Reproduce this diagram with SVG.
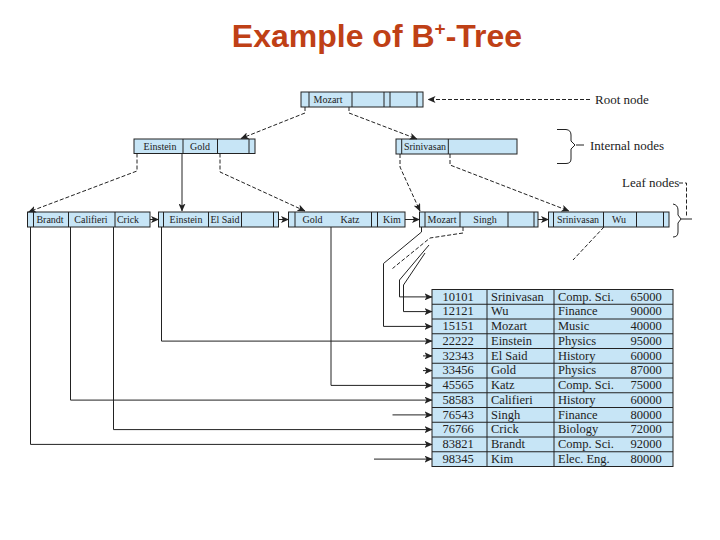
<svg xmlns="http://www.w3.org/2000/svg" width="720" height="540" viewBox="0 0 720 540">
<defs>
<marker id="ah" markerWidth="8" markerHeight="7" refX="7.5" refY="3.5" orient="auto" markerUnits="userSpaceOnUse"><path d="M0,0 L8,3.5 L0,7 L2,3.5 z" fill="#222"/></marker>
</defs>
<style>
.box{fill:#c7e5f6;stroke:#222;stroke-width:1}
.dv{stroke:#222;stroke-width:1}
.k{font-family:"Liberation Serif",serif;font-size:10px;fill:#222;text-anchor:middle}
.c{fill:none;stroke:#222;stroke-width:1}
.d{stroke-dasharray:4 2}
.t{font-family:"Liberation Serif",serif;font-size:12.5px;fill:#222}
.m{text-anchor:middle}
.lbl{font-family:"Liberation Serif",serif;font-size:13px;fill:#222}
.title{font-family:"Liberation Sans",Arial,sans-serif;font-size:32px;font-weight:bold;fill:#bf4016}
</style>
<rect width="720" height="540" fill="#fff"/>
<text class="title" x="377" y="47" text-anchor="middle">Example of B<tspan font-size="19" dy="-12">+</tspan><tspan dy="12">-Tree</tspan></text>

<g id="root">
<rect class="box" x="301" y="92" width="122" height="15"/>
<path class="dv" d="M309,92V107M352,92V107M384,92V107M390,92V107M417,92V107"/>
<text class="k" x="328" y="103">Mozart</text>
</g>
<g id="internal-left">
<rect class="box" x="134" y="139" width="121" height="14.5"/>
<path class="dv" d="M183,139V153.5M217.5,139V153.5M249,139V153.5"/>
<text class="k" x="160" y="150">Einstein</text>
<text class="k" x="200" y="150">Gold</text>
</g>
<g id="internal-right">
<rect class="box" x="396" y="139" width="121" height="15"/>
<path class="dv" d="M401.7,139V154M448.3,139V154"/>
<text class="k" x="425" y="150">Srinivasan</text>
</g>
<g id="leaf-1">
<rect class="box" x="27.5" y="212" width="122.5" height="15"/>
<path class="dv" d="M33.5,212V227M68.5,212V227M115,212V227"/>
<text class="k" x="50" y="223">Brandt</text>
<text class="k" x="91" y="223">Califieri</text>
<text class="k" x="128" y="223">Crick</text>
</g>
<g id="leaf-2">
<rect class="box" x="158.5" y="212" width="120" height="15"/>
<path class="dv" d="M163.5,212V227M208.5,212V227M241.5,212V227M273.5,212V227"/>
<text class="k" x="186" y="223">Einstein</text>
<text class="k" x="225" y="223">El Said</text>
</g>
<g id="leaf-3">
<rect class="box" x="288.5" y="212" width="116.5" height="15"/>
<path class="dv" d="M295,212V227M371.5,212V227M377.5,212V227"/>
<text class="k" x="312.5" y="223">Gold</text>
<text class="k" x="350" y="223">Katz</text>
<text class="k" x="392" y="223">Kim</text>
</g>
<g id="leaf-4">
<rect class="box" x="419.5" y="212" width="118.5" height="15"/>
<path class="dv" d="M425,212V227M460,212V227M508,212V227M534,212V227"/>
<text class="k" x="442" y="223">Mozart</text>
<text class="k" x="485" y="223">Singh</text>
</g>
<g id="leaf-5">
<rect class="box" x="548.5" y="212" width="120.5" height="15"/>
<path class="dv" d="M553.5,212V227M603.5,212V227M636.5,212V227M663.5,212V227"/>
<text class="k" x="578" y="223">Srinivasan</text>
<text class="k" x="619" y="223">Wu</text>
</g>

<g id="records">
<rect class="box" x="432" y="289.5" width="241" height="177"/>
<path class="dv" d="M487,289.5V466.5M554,289.5V466.5M432,304.25H673M432,319H673M432,333.75H673M432,348.5H673M432,363.25H673M432,378H673M432,392.75H673M432,407.5H673M432,422.25H673M432,437H673M432,451.75H673"/>
<g class="t">
<text class="m" x="458" y="300.5">10101</text><text x="491" y="300.5">Srinivasan</text><text x="558" y="300.5">Comp. Sci.</text><text class="m" x="646" y="300.5">65000</text>
<text class="m" x="458" y="315.25">12121</text><text x="491" y="315.25">Wu</text><text x="558" y="315.25">Finance</text><text class="m" x="646" y="315.25">90000</text>
<text class="m" x="458" y="330">15151</text><text x="491" y="330">Mozart</text><text x="558" y="330">Music</text><text class="m" x="646" y="330">40000</text>
<text class="m" x="458" y="344.75">22222</text><text x="491" y="344.75">Einstein</text><text x="558" y="344.75">Physics</text><text class="m" x="646" y="344.75">95000</text>
<text class="m" x="458" y="359.5">32343</text><text x="491" y="359.5">El Said</text><text x="558" y="359.5">History</text><text class="m" x="646" y="359.5">60000</text>
<text class="m" x="458" y="374.25">33456</text><text x="491" y="374.25">Gold</text><text x="558" y="374.25">Physics</text><text class="m" x="646" y="374.25">87000</text>
<text class="m" x="458" y="389">45565</text><text x="491" y="389">Katz</text><text x="558" y="389">Comp. Sci.</text><text class="m" x="646" y="389">75000</text>
<text class="m" x="458" y="403.75">58583</text><text x="491" y="403.75">Califieri</text><text x="558" y="403.75">History</text><text class="m" x="646" y="403.75">60000</text>
<text class="m" x="458" y="418.5">76543</text><text x="491" y="418.5">Singh</text><text x="558" y="418.5">Finance</text><text class="m" x="646" y="418.5">80000</text>
<text class="m" x="458" y="433.25">76766</text><text x="491" y="433.25">Crick</text><text x="558" y="433.25">Biology</text><text class="m" x="646" y="433.25">72000</text>
<text class="m" x="458" y="448">83821</text><text x="491" y="448">Brandt</text><text x="558" y="448">Comp. Sci.</text><text class="m" x="646" y="448">92000</text>
<text class="m" x="458" y="462.75">98345</text><text x="491" y="462.75">Kim</text><text x="558" y="462.75">Elec. Eng.</text><text class="m" x="646" y="462.75">80000</text>
</g>
</g>

<g id="labels">
<text class="lbl" x="595" y="104">Root node</text>
<text class="lbl" x="590" y="149.5">Internal nodes</text>
<text class="lbl" x="622" y="187">Leaf nodes</text>
<path class="c" d="M557,129.5H566Q571,130 571,135V141L575,145L571,149V159Q571,163.5 566,163.5H557"/>
<path class="c" d="M576,145H584"/>
<path class="c" d="M673,204Q678,205 678,210V215L681,219L678,223V232Q678,237 673,237"/>
<path class="c" d="M681,219H692"/>
<path class="c d" d="M679,183H686.5V217"/>
</g>

<g id="connectors">
<path class="c d" d="M590,99.5H428" marker-end="url(#ah)"/>
<path class="c d" d="M305,107V113L241,138.5" marker-end="url(#ah)"/>
<path class="c d" d="M349,107V113L417,139" marker-end="url(#ah)"/>
<path class="c d" d="M137,153.5V171L28.5,212" marker-end="url(#ah)"/>
<path class="c" d="M182,153.5V211" marker-end="url(#ah)"/>
<path class="c d" d="M220,153.5V172L305,211" marker-end="url(#ah)"/>
<path class="c d" d="M400,154V167L420,211" marker-end="url(#ah)"/>
<path class="c d" d="M450,154V165L569,211" marker-end="url(#ah)"/>
<path class="c" d="M150,219.5H158.5" marker-end="url(#ah)"/>
<path class="c" d="M279,219.5H288.5" marker-end="url(#ah)"/>
<path class="c" d="M405,219.5H419.5" marker-end="url(#ah)"/>
<path class="c" d="M538,219.5H548.5" marker-end="url(#ah)"/>
<path class="c" d="M30.5,227V444.4H432" marker-end="url(#ah)"/>
<path class="c" d="M70.5,227V400.1H432" marker-end="url(#ah)"/>
<path class="c" d="M113.5,227V429.6H432" marker-end="url(#ah)"/>
<path class="c" d="M161.5,227V341.1H432" marker-end="url(#ah)"/>
<path class="c" d="M331,227V385.4H432" marker-end="url(#ah)"/>
<path class="c" d="M421.5,227V232L383.5,263.5V326.4H432" marker-end="url(#ah)"/>
<path class="c d" d="M463,227V233L430,238L392.5,268.5"/>
<path class="c" d="M392.5,414.9H432" marker-end="url(#ah)"/>
<path class="c" d="M429,245L399.5,280V296.9H432" marker-end="url(#ah)"/>
<path class="c" d="M425,253L403.5,285V311.6H432" marker-end="url(#ah)"/>
<path class="c d" d="M604,227L573,260"/>
<path class="c" d="M423,355.9H432" marker-end="url(#ah)"/>
<path class="c" d="M423,370.6H432" marker-end="url(#ah)"/>
<path class="c" d="M374,459.1H432" marker-end="url(#ah)"/>
</g>
</svg>
